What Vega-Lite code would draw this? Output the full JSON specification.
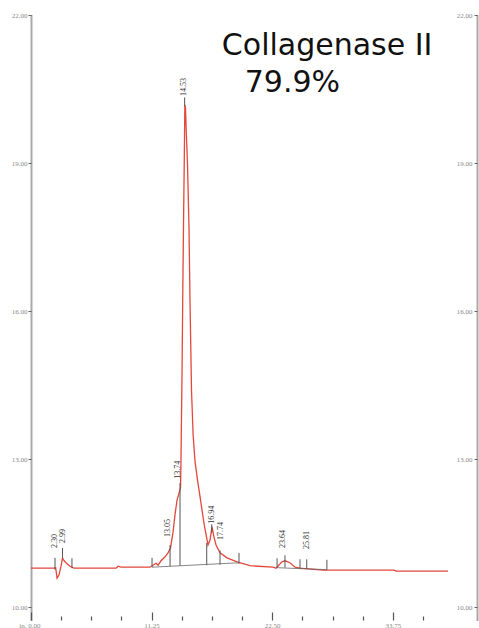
{
  "$schema": "https://vega.github.io/schema/vega-lite/v6.json",
  "width": 446,
  "height": 605,
  "autosize": {"type": "none"},
  "padding": {"left": 31, "top": 15, "right": 2, "bottom": 8},
  "background": "white",
  "config": {"view": {"stroke": null}},
  "datasets": {
    "trace": [
      {"t": 0, "v": 10.79}, {"t": 2.2, "v": 10.79}, {"t": 2.3, "v": 10.80}, {"t": 2.43, "v": 10.59},
      {"t": 2.61, "v": 10.65}, {"t": 2.8, "v": 10.83}, {"t": 2.94, "v": 11.0}, {"t": 3.03, "v": 10.96},
      {"t": 3.26, "v": 10.9}, {"t": 3.64, "v": 10.83}, {"t": 4.01, "v": 10.79}, {"t": 7.93, "v": 10.79},
      {"t": 8.12, "v": 10.83}, {"t": 8.4, "v": 10.81}, {"t": 8.77, "v": 10.81}, {"t": 11.1, "v": 10.81},
      {"t": 11.38, "v": 10.85}, {"t": 11.66, "v": 10.89}, {"t": 11.85, "v": 10.85}, {"t": 12.13, "v": 10.94},
      {"t": 12.5, "v": 11.02}, {"t": 12.78, "v": 11.1}, {"t": 13.01, "v": 11.2}, {"t": 13.25, "v": 11.52},
      {"t": 13.43, "v": 11.87}, {"t": 13.62, "v": 12.17}, {"t": 13.81, "v": 12.31}, {"t": 13.95, "v": 12.42},
      {"t": 13.99, "v": 12.98}, {"t": 14.09, "v": 14.81}, {"t": 14.15, "v": 16.22}, {"t": 14.23, "v": 17.85},
      {"t": 14.3, "v": 19.12}, {"t": 14.35, "v": 20.18}, {"t": 14.41, "v": 20.12}, {"t": 14.46, "v": 19.77},
      {"t": 14.6, "v": 18.96}, {"t": 14.74, "v": 17.64}, {"t": 14.83, "v": 16.22}, {"t": 14.97, "v": 14.4},
      {"t": 15.12, "v": 13.5}, {"t": 15.3, "v": 12.95}, {"t": 15.55, "v": 12.55}, {"t": 15.85, "v": 12.12},
      {"t": 16.15, "v": 11.68}, {"t": 16.51, "v": 11.26}, {"t": 16.7, "v": 11.36}, {"t": 16.88, "v": 11.63},
      {"t": 17.07, "v": 11.42}, {"t": 17.26, "v": 11.26}, {"t": 17.63, "v": 11.1}, {"t": 18.28, "v": 11.0},
      {"t": 19.22, "v": 10.92}, {"t": 20.43, "v": 10.84}, {"t": 22.57, "v": 10.81}, {"t": 22.85, "v": 10.79},
      {"t": 23.41, "v": 10.92}, {"t": 23.69, "v": 10.94}, {"t": 24.16, "v": 10.9}, {"t": 24.63, "v": 10.81},
      {"t": 25.09, "v": 10.79}, {"t": 27.24, "v": 10.75}, {"t": 33.86, "v": 10.75}, {"t": 34.05, "v": 10.73},
      {"t": 38.9, "v": 10.73}
    ],
    "marks": [
      {"t": 2.24, "v1": 10.76, "v2": 11.0}, {"t": 2.94, "v1": 11.0, "v2": 11.2}, {"t": 3.82, "v1": 10.79, "v2": 10.99},
      {"t": 11.29, "v1": 10.81, "v2": 11.0}, {"t": 12.97, "v1": 10.83, "v2": 11.26}, {"t": 13.9, "v1": 10.84, "v2": 12.52},
      {"t": 14.33, "v1": 20.15, "v2": 20.33}, {"t": 16.39, "v1": 10.85, "v2": 11.3}, {"t": 16.86, "v1": 11.5, "v2": 11.68},
      {"t": 17.63, "v1": 10.86, "v2": 11.15}, {"t": 19.4, "v1": 10.88, "v2": 11.1}, {"t": 22.95, "v1": 10.8, "v2": 10.99},
      {"t": 23.69, "v1": 10.8, "v2": 11.05}, {"t": 25.09, "v1": 10.78, "v2": 10.97}, {"t": 25.72, "v1": 10.78, "v2": 10.97},
      {"t": 27.6, "v1": 10.76, "v2": 10.96}
    ],
    "bases": [
      {"t1": 11.29, "v1": 10.81, "t2": 19.4, "v2": 10.9},
      {"t1": 22.95, "v1": 10.8, "t2": 27.6, "v2": 10.76}
    ],
    "peaks": [
      {"t": 2.24, "v": 11.2, "label": "2.30"}, {"t": 2.94, "v": 11.3, "label": "2.99"},
      {"t": 12.8, "v": 11.42, "label": "13.05"}, {"t": 13.7, "v": 12.6, "label": "13.74"},
      {"t": 14.28, "v": 20.36, "label": "14.53"}, {"t": 16.84, "v": 11.69, "label": "16.94"},
      {"t": 17.72, "v": 11.36, "label": "17.74"}, {"t": 23.5, "v": 11.2, "label": "23.64"},
      {"t": 25.75, "v": 11.18, "label": "25.81"}
    ],
    "titles": [
      {"t": 17.8, "v": 21.19, "line": "Collagenase II"},
      {"t": 19.94, "v": 20.44, "line": "79.9%"}
    ]
  },
  "resolve": {"axis": {"x": "independent", "y": "independent"}},
  "layer": [
    {
      "data": {"name": "trace"},
      "mark": {"type": "line", "color": "#e4473b", "strokeWidth": 1.3},
      "encoding": {
        "x": {"field": "t", "type": "quantitative", "scale": {"domain": [0, 41.6], "nice": false, "zero": false},
          "axis": {"orient": "bottom", "title": null, "domain": false, "values": [0, 11.25, 22.5, 33.75],
            "labelExpr": "datum.value == 0 ? 'in.    0.00' : format(datum.value, '.2f')",
            "labelAlign": {"condition": {"test": "datum.value == 0", "value": "right"}, "value": "center"},
            "labelOffset": {"condition": {"test": "datum.value == 0", "value": 9}, "value": 0},
            "tickSize": -8, "tickColor": "#555", "tickWidth": 1.2, "labelPadding": 9, "labelBaseline": "top",
            "labelFont": "Liberation Serif", "labelFontSize": 7, "labelColor": "#888", "grid": false}},
        "y": {"field": "v", "type": "quantitative", "scale": {"domain": [9.74, 22], "nice": false, "zero": false},
          "axis": {"orient": "left", "title": null, "values": [10, 13, 16, 19, 22], "format": ".2f",
            "tickSize": 3, "tickColor": "#666", "labelPadding": 1, "domainColor": "#555", "domainWidth": 2,
            "domainDash": [1, 1], "labelFont": "Liberation Serif", "labelFontSize": 7, "labelColor": "#888", "grid": false}}
      }
    },
    {
      "data": {"name": "marks"},
      "mark": {"type": "rule", "color": "#555", "strokeWidth": 1},
      "encoding": {
        "x": {"field": "t", "type": "quantitative", "scale": {"domain": [0, 41.6], "nice": false, "zero": false},
          "axis": {"orient": "bottom", "title": null, "domain": false, "labels": false, "grid": false,
            "values": [2.8125, 5.625, 8.4375, 14.0625, 16.875, 19.6875, 25.3125, 28.125, 30.9375, 36.5625],
            "tickSize": -4, "tickColor": "#555", "tickWidth": 1.2}},
        "y": {"field": "v1", "type": "quantitative", "scale": {"domain": [9.74, 22], "nice": false, "zero": false},
          "axis": {"orient": "right", "title": null, "values": [10, 13, 16, 19, 22], "format": ".2f",
            "tickSize": -3, "tickColor": "#666", "labelAlign": "right", "labelPadding": -2,
            "domainColor": "#555", "domainWidth": 2, "domainDash": [1, 1],
            "labelFont": "Liberation Serif", "labelFontSize": 7, "labelColor": "#888", "grid": false}},
        "y2": {"field": "v2"}
      }
    },
    {
      "data": {"name": "bases"},
      "mark": {"type": "rule", "color": "#666", "strokeWidth": 0.8},
      "encoding": {
        "x": {"field": "t1", "type": "quantitative", "axis": null},
        "x2": {"field": "t2"},
        "y": {"field": "v1", "type": "quantitative", "axis": null},
        "y2": {"field": "v2"}
      }
    },
    {
      "mark": {"type": "rule", "color": "#555", "strokeWidth": 1.5},
      "encoding": {
        "x": {"datum": 0, "type": "quantitative", "axis": null},
        "x2": {"datum": 38.9},
        "y": {"datum": 9.74, "type": "quantitative", "axis": null}
      }
    },
    {
      "data": {"name": "peaks"},
      "mark": {"type": "text", "angle": 270, "align": "left", "baseline": "middle", "font": "Liberation Serif", "fontSize": 8, "color": "#333"},
      "encoding": {
        "x": {"field": "t", "type": "quantitative", "axis": null},
        "y": {"field": "v", "type": "quantitative", "axis": null},
        "text": {"field": "label"}
      }
    },
    {
      "data": {"name": "titles"},
      "mark": {"type": "text", "align": "left", "baseline": "alphabetic", "font": "DejaVu Sans", "fontSize": 30, "color": "#111"},
      "encoding": {
        "x": {"field": "t", "type": "quantitative", "axis": null},
        "y": {"field": "v", "type": "quantitative", "axis": null},
        "text": {"field": "line"}
      }
    },
    {
      "mark": {"type": "text", "align": "left", "baseline": "middle", "font": "Liberation Serif", "fontSize": 7, "color": "#888"},
      "encoding": {
        "x": {"datum": 39.2, "type": "quantitative", "axis": null},
        "y": {"datum": 9.74, "type": "quantitative", "axis": null},
        "text": {"value": "in.  0.0"}
      }
    }
  ]
}
